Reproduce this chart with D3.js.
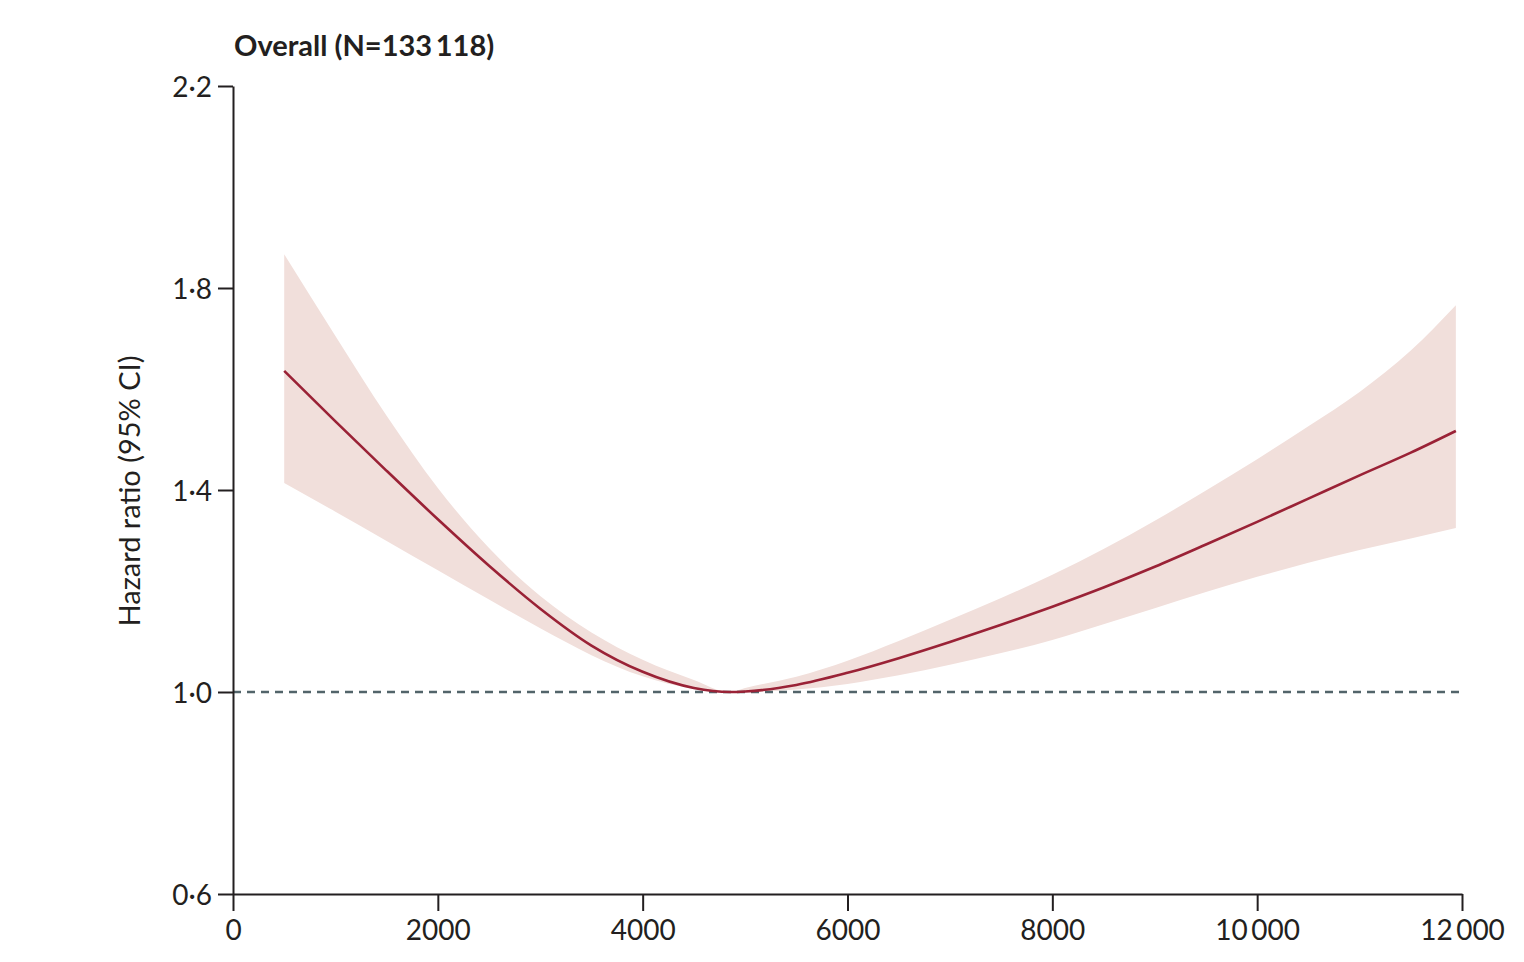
<!DOCTYPE html>
<html>
<head>
<meta charset="utf-8">
<script src="https://cdn.jsdelivr.net/npm/d3@7"></script>
<style>
  html, body { margin: 0; padding: 0; background: #ffffff; }
  svg { display: block; }
  text { font-family: Lato, "Open Sans", sans-serif; fill: #231f20; }
</style>
</head>
<body>
<svg id="chart" width="1524" height="962"></svg>
<script>
// ---- data ----
const title = "Overall (N=133\u2009118)";
const yLabel = "Hazard ratio (95% CI)";
const xTicks = [0, 2000, 4000, 6000, 8000, 10000, 12000];
const xTickLabels = ["0", "2000", "4000", "6000", "8000", "10\u2009000", "12\u2009000"];
const yTicks = [0.6, 1.0, 1.4, 1.8, 2.2];
const yTickLabels = ["0\u00b76", "1\u00b70", "1\u00b74", "1\u00b78", "2\u00b72"];
const referenceHR = 1.0;

const steps = [500, 1000, 1500, 2000, 2500, 3000, 3500, 4000, 4500, 4850, 5000, 5500, 6000, 6500, 7000, 7500, 8000, 8500, 9000, 9500, 10000, 10500, 11000, 11500, 11940];
const hr    = [1.636, 1.536, 1.438, 1.342, 1.250, 1.165, 1.092, 1.040, 1.008, 1.000, 1.001, 1.014, 1.038, 1.067, 1.099, 1.133, 1.169, 1.207, 1.248, 1.292, 1.337, 1.383, 1.429, 1.474, 1.517];
const upper = [1.867, 1.705, 1.547, 1.404, 1.285, 1.190, 1.118, 1.064, 1.024, 1.000, 1.008, 1.030, 1.062, 1.101, 1.143, 1.186, 1.232, 1.283, 1.339, 1.399, 1.461, 1.526, 1.594, 1.676, 1.766];
const lower = [1.414, 1.357, 1.299, 1.241, 1.183, 1.126, 1.073, 1.031, 1.006, 1.000, 1.000, 1.005, 1.016, 1.033, 1.054, 1.077, 1.103, 1.134, 1.166, 1.198, 1.228, 1.256, 1.281, 1.304, 1.325];

// ---- layout ----
const svg = d3.select("#chart");
const x = d3.scaleLinear().domain([0, 12000]).range([233, 1462]);
const y = d3.scaleLinear().domain([0.6, 2.2]).range([894, 86]);

const rows = steps.map((s, i) => ({ s, hr: hr[i], lo: lower[i], hi: upper[i] }));
const curve = d3.curveMonotoneX;

// confidence band
svg.append("path")
  .datum(rows)
  .attr("fill", "#f1dfdb")
  .attr("d", d3.area().curve(curve).x(d => x(d.s)).y0(d => y(d.lo)).y1(d => y(d.hi)));

// reference dashed line
svg.append("line")
  .attr("x1", x(0)).attr("x2", x(12000) + 3)
  .attr("y1", y(referenceHR)).attr("y2", y(referenceHR))
  .attr("stroke", "#52646a").attr("stroke-width", 2.4)
  .attr("stroke-dasharray", "8,6");

// hazard ratio line
svg.append("path")
  .datum(rows)
  .attr("fill", "none")
  .attr("stroke", "#9a2236")
  .attr("stroke-width", 2.6)
  .attr("d", d3.line().curve(curve).x(d => x(d.s)).y(d => y(d.hr)));

// axes
const xAxis = d3.axisBottom(x).tickValues(xTicks)
  .tickFormat((d, i) => xTickLabels[i]).tickSize(17).tickSizeOuter(0).tickPadding(9);
const gx = svg.append("g").attr("transform", `translate(0,${y(0.6)})`).call(xAxis);

const yAxis = d3.axisLeft(y).tickValues(yTicks)
  .tickFormat((d, i) => yTickLabels[i]).tickSize(15).tickSizeOuter(0).tickPadding(6);
const gy = svg.append("g").attr("transform", `translate(${x(0)},0)`).call(yAxis);

[gx, gy].forEach(g => {
  g.select(".domain").attr("stroke", "#231f20").attr("stroke-width", 2);
  g.selectAll(".tick line").attr("stroke", "#231f20").attr("stroke-width", 2);
  g.selectAll(".tick text").attr("font-family", "Lato, 'Open Sans', sans-serif")
    .attr("font-size", 28).attr("fill", "#231f20");
});
gy.selectAll(".tick text").attr("dy", "0.36em");

// y-axis label
svg.append("text")
  .attr("transform", "translate(140,491) rotate(-90)")
  .attr("text-anchor", "middle")
  .attr("font-size", 29)
  .text(yLabel);

// title
svg.append("text")
  .attr("x", 234).attr("y", 56)
  .attr("font-size", 29)
  .attr("font-weight", 700)
  .text(title);
</script>
</body>
</html>
